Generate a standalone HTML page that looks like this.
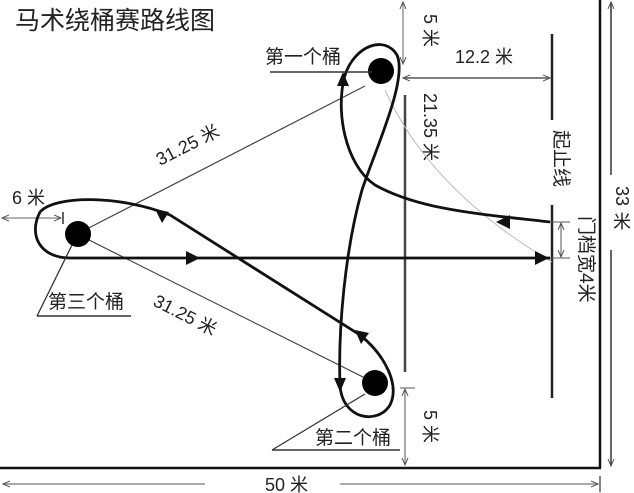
<!DOCTYPE html>
<html><head><meta charset="utf-8"><style>
body{margin:0;background:#fff;}
svg{display:block;}
text{font-family:"Liberation Sans","Noto Sans CJK SC",sans-serif;fill:#222;}
</style></head><body>
<svg width="634" height="493" viewBox="0 0 634 493" xmlns="http://www.w3.org/2000/svg">
<defs>
<marker id="a" markerWidth="8" markerHeight="8" refX="7" refY="4" orient="auto" markerUnits="userSpaceOnUse"><path d="M0,1 L7,4 L0,7" fill="none" stroke="#555" stroke-width="1"/></marker>
</defs>
<text x="15" y="29" font-size="25" fill="#333">马术绕桶赛路线图</text>
<!-- borders -->
<line x1="600" y1="0" x2="600" y2="468" stroke="#111" stroke-width="2.5"/>
<line x1="0" y1="468" x2="601" y2="468" stroke="#111" stroke-width="2.5"/>
<!-- 33 arrow -->
<line x1="611" y1="175" x2="611" y2="2" stroke="#333" stroke-width="1.5" marker-end="url(#a)"/>
<line x1="611" y1="250" x2="611" y2="466" stroke="#333" stroke-width="1.5" marker-end="url(#a)"/>
<text x="616" y="186" font-size="18" transform="rotate(90 616 186)">33</text>
<text x="613" y="228" font-size="18">米</text>
<!-- 50 arrow -->
<line x1="205" y1="484" x2="3" y2="484" stroke="#777" stroke-width="1.2" marker-end="url(#a)"/>
<line x1="340" y1="484" x2="598" y2="484" stroke="#777" stroke-width="1.2" marker-end="url(#a)"/>
<line x1="600" y1="476" x2="600" y2="492" stroke="#333" stroke-width="1.2"/>
<text x="265" y="491" font-size="18">50 米</text>
<!-- start line -->
<line x1="552" y1="34" x2="552" y2="120" stroke="#222" stroke-width="2.5"/>
<line x1="552" y1="205" x2="552" y2="398" stroke="#222" stroke-width="2.5"/>
<text x="555" y="130" font-size="19" transform="rotate(90 555 130)" fill="#333">起止线</text>
<line x1="545" y1="222" x2="570" y2="222" stroke="#555"/>
<line x1="545" y1="258" x2="570" y2="258" stroke="#555"/>
<line x1="561" y1="240" x2="561" y2="223" stroke="#555" marker-end="url(#a)"/>
<line x1="561" y1="240" x2="561" y2="257" stroke="#555" marker-end="url(#a)"/>
<text x="580" y="216" font-size="19" transform="rotate(90 580 216)">门档宽4米</text>
<!-- vertical line x405 -->
<line x1="405" y1="95" x2="405" y2="372" stroke="#444" stroke-width="2.5"/>
<line x1="403" y1="30" x2="403" y2="2" stroke="#666" stroke-width="1" marker-end="url(#a)"/>
<line x1="403" y1="30" x2="403" y2="64" stroke="#666" stroke-width="1" marker-end="url(#a)"/>
<text x="424" y="14" font-size="18" transform="rotate(90 424 14)">5 米</text>
<line x1="400" y1="388" x2="415" y2="388" stroke="#555"/>
<line x1="405" y1="420" x2="405" y2="389" stroke="#555" marker-end="url(#a)"/>
<line x1="405" y1="420" x2="405" y2="465" stroke="#555" marker-end="url(#a)"/>
<text x="424" y="410" font-size="18" transform="rotate(90 424 410)">5 米</text>
<!-- 12.2 -->
<line x1="470" y1="78" x2="403" y2="78" stroke="#555" stroke-width="1.5" marker-end="url(#a)"/>
<line x1="470" y1="78" x2="550" y2="78" stroke="#555" stroke-width="1.5" marker-end="url(#a)"/>
<text x="455" y="63" font-size="18">12.2 米</text>
<text x="424" y="93" font-size="18" transform="rotate(90 424 93)">21.35 米</text>
<!-- gray arc -->
<path d="M385,90 Q430,190 552,262" fill="none" stroke="#bbb" stroke-width="1"/>
<!-- thin distance lines -->
<line x1="77" y1="234" x2="365" y2="86" stroke="#444" stroke-width="1.2"/>
<line x1="77" y1="234" x2="375" y2="383" stroke="#444" stroke-width="1.2"/>
<text x="160" y="166" font-size="18" transform="rotate(-27 160 166)">31.25 米</text>
<text x="152" y="305" font-size="18" transform="rotate(27 152 305)">31.25 米</text>
<!-- 6 m -->
<text x="12" y="204" font-size="18">6 米</text>
<line x1="30" y1="218" x2="2" y2="218" stroke="#666" marker-end="url(#a)"/>
<line x1="30" y1="218" x2="61" y2="218" stroke="#666" marker-end="url(#a)"/>
<line x1="63" y1="212" x2="63" y2="224" stroke="#333" stroke-width="1.5"/>
<!-- route -->
<path d="M550,222 C480,214 420,210 375,185 C345,165 335,110 345,75 C355,45 385,35 397,55 C408,80 375,150 362,190 C345,250 338,330 340,385 C342,420 378,425 390,405 C400,385 385,355 360,335 L170,215 C120,195 55,195 40,212 C28,235 40,258 70,258 L550,258" fill="none" stroke="#111" stroke-width="2.8"/>
<!-- arrowheads -->
<polygon points="496,222 510,215 510,229" fill="#111"/>
<polygon points="343,72 337,86 349,86" fill="#111"/>
<polygon points="340,392 334,378 346,378" fill="#111"/>
<polygon points="355,330 369,333 361,344" fill="#111"/>
<polygon points="155,209 169,212 162,223" fill="#111"/>
<polygon points="200,258 186,251 186,265" fill="#111"/>
<polygon points="549,258 535,251 535,265" fill="#111"/>
<!-- barrels -->
<circle cx="381" cy="71" r="13" fill="#000"/>
<circle cx="78" cy="234" r="13" fill="#000"/>
<circle cx="375" cy="383" r="13" fill="#000"/>
<!-- labels -->
<text x="265" y="63" font-size="19" fill="#333">第一个桶</text>
<line x1="270" y1="72" x2="372" y2="72" stroke="#333" stroke-width="1.5"/>
<text x="48" y="308" font-size="19" fill="#333">第三个桶</text>
<line x1="37" y1="316" x2="131" y2="316" stroke="#333" stroke-width="1.5"/>
<line x1="37" y1="316" x2="72" y2="245" stroke="#333" stroke-width="1.3"/>
<text x="315" y="444" font-size="19" fill="#333">第二个桶</text>
<line x1="272" y1="450" x2="400" y2="450" stroke="#333" stroke-width="1.5"/>
<line x1="272" y1="450" x2="365" y2="394" stroke="#333" stroke-width="1.3"/>
</svg>
</body></html>
